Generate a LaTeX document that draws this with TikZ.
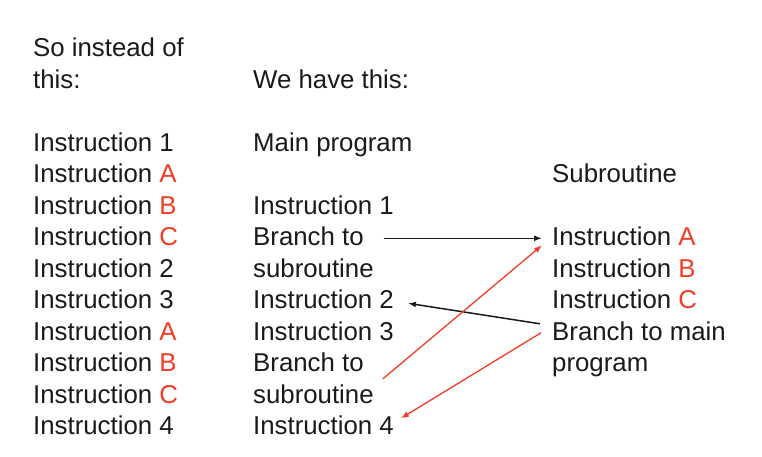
\documentclass[tikz,border=0pt]{standalone}
\usepackage{fontspec}
\setmainfont{Liberation Sans}
\usetikzlibrary{arrows.meta,calc}
\definecolor{ink}{HTML}{1A1A1A}
\definecolor{hot}{HTML}{F23C24}
\newcommand{\hl}[1]{\textcolor{hot}{#1}}

\begin{document}
\begin{tikzpicture}[x=1pt,y=-1pt,
    txt/.style={anchor=base west,inner sep=0pt,text=ink,font=\fontsize{25.8pt}{31.5pt}\selectfont},
    jump/.style={-{Latex[length=8pt,width=6pt]},line width=1.5pt},
    back/.style={jump,hot,line width=1.3pt}]
  \useasboundingbox (0,0) rectangle (762,456);
  % left column: the long way
  \node[txt] (so)  at (33,56.5)  {So instead of};
  \node[txt] (th)  at (33,88)    {this:};
  \node[txt] (l1)  at (33,151)   {Instruction 1};
  \node[txt] (l2)  at (33,182.5) {Instruction \hl{A}};
  \node[txt] (l3)  at (33,214)   {Instruction \hl{B}};
  \node[txt] (l4)  at (33,245.5) {Instruction \hl{C}};
  \node[txt] (l5)  at (33,277)   {Instruction 2};
  \node[txt] (l6)  at (33,308.5) {Instruction 3};
  \node[txt] (l7)  at (33,340)   {Instruction \hl{A}};
  \node[txt] (l8)  at (33,371.5) {Instruction \hl{B}};
  \node[txt] (l9)  at (33,403)   {Instruction \hl{C}};
  \node[txt] (l10) at (33,434.5) {Instruction 4};
  % middle column: main program
  \node[txt] (we)  at (253,88)    {We have this:};
  \node[txt] (mp)  at (253,151)   {Main program};
  \node[txt] (m1)  at (253,214)   {Instruction 1};
  \node[txt] (b1)  at (253,245.5) {Branch to};
  \node[txt] (s1)  at (253,277)   {subroutine};
  \node[txt] (m2)  at (253,308.5) {Instruction 2};
  \node[txt] (m3)  at (253,340)   {Instruction 3};
  \node[txt] (b2)  at (253,371.5) {Branch to};
  \node[txt] (s2)  at (253,403)   {subroutine};
  \node[txt] (m4)  at (253,434.5) {Instruction 4};
  % right column: subroutine
  \node[txt] (sub) at (552,182.5) {Subroutine};
  \node[txt] (ra)  at (552,245.5) {Instruction \hl{A}};
  \node[txt] (rb)  at (552,277)   {Instruction \hl{B}};
  \node[txt] (rc)  at (552,308.5) {Instruction \hl{C}};
  \node[txt] (bm)  at (552,340)   {Branch to main};
  \node[txt] (pg)  at (552,371.5) {program};
  % calls and returns
  \draw[jump,ink] ([xshift=20pt,yshift=-2pt]b1.east) -- ([xshift=-10pt,yshift=-2pt]ra.west);
  \draw[jump,ink] ([xshift=-12pt,yshift=7pt]bm.west) -- ([xshift=14pt,yshift=-4pt]m2.east);
  \draw[back] ([xshift=9pt,yshift=15pt]s2.east) -- ([xshift=-10pt,yshift=-9pt]ra.west);
  \draw[back] ([xshift=-11pt,yshift=-2pt]bm.west) -- ([xshift=7pt,yshift=7pt]m4.east);
\end{tikzpicture}
\end{document}
